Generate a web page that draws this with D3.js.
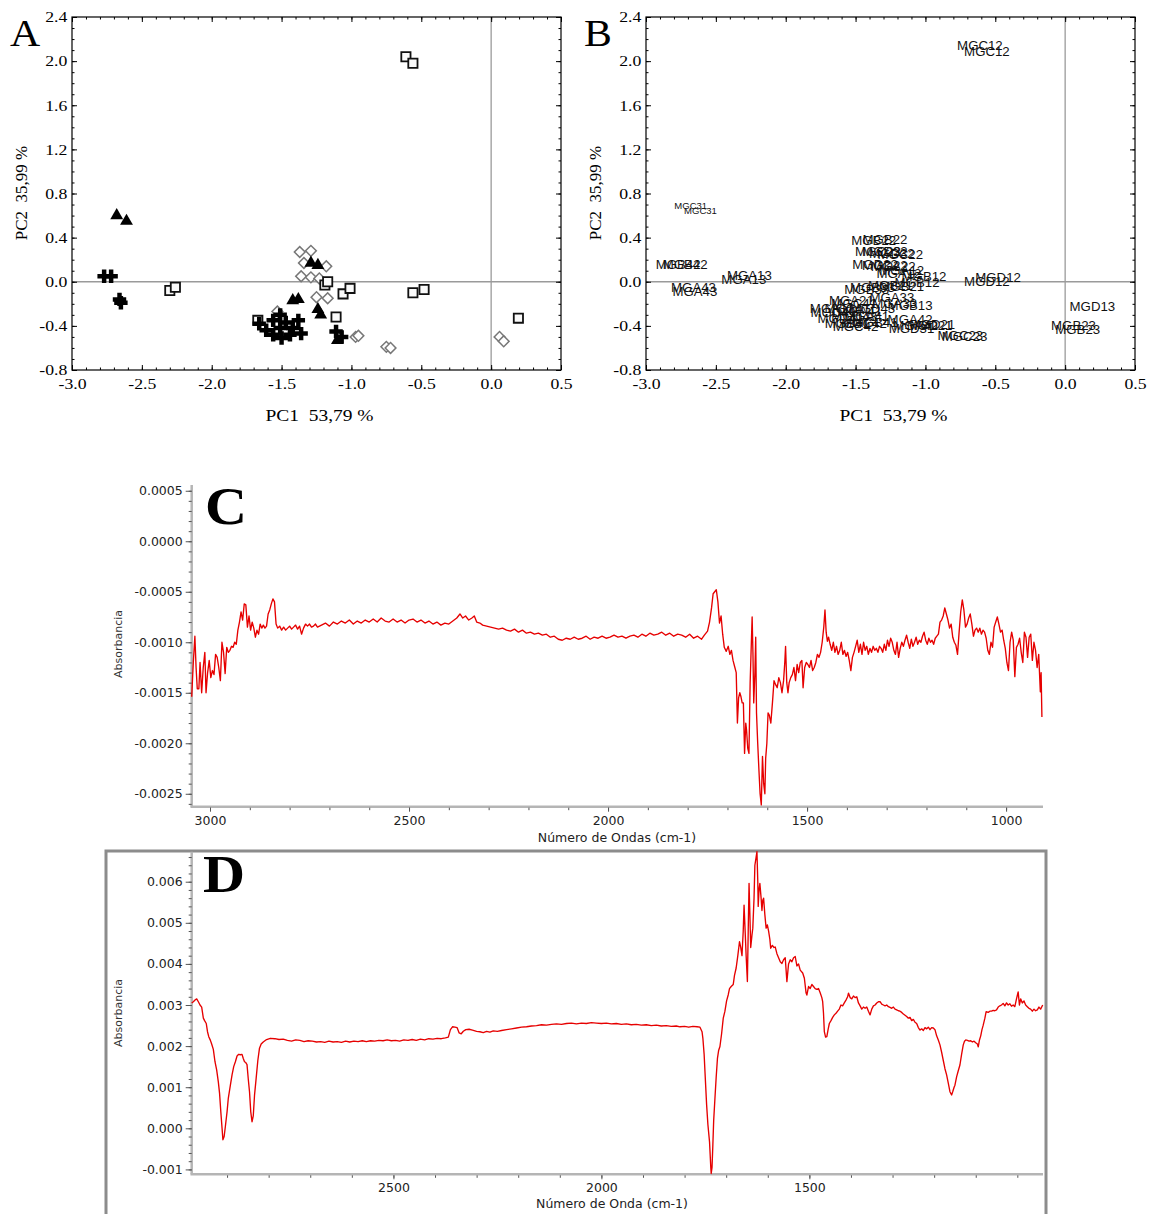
<!DOCTYPE html>
<html><head><meta charset="utf-8">
<script src="https://cdn.jsdelivr.net/npm/d3@7"></script>
<style>html,body{margin:0;padding:0;background:#fff;} svg{display:block;}</style>
</head><body>
<svg id="fig" width="1152" height="1214"></svg>
<script>
// ---------------- PCA data (panels A and B) ----------------
const sampleIds = [
 "MGC12","MGC12","MGA13","MGA13","MGD12","MGD12","MGD13","MGB12","MGB12","MGA12","MGA12","MGB13","MGA11",
 "MGB22","MGB22","MGC22","MGC22","MGD22","MGD22","MGA22","MGB21","MGB21","MGD21","MGD21","MGC23","MGC23","MGB23","MGB23","MGA21",
 "MGC31","MGC31","MGD32","MGD32","MGB33","MGB33","MGA33","MGA33","MGD31",
 "MGB42","MGB42","MGA43","MGA43","MGD41","MGD41","MGC41","MGC41","MGA41","MGA41","MGB41","MGB41","MGC42","MGC42","MGD43","MGD43","MGA42","MGA42"];
const pc1Scores = [
 -0.61,-0.56,-2.30,-2.26,-0.56,-0.48,0.195,-1.06,-1.01,-1.19,-1.17,-1.11,-1.67,
 -1.37,-1.29,-1.34,-1.18,-1.36,-1.29,-1.23,-1.25,-1.17,-0.97,-0.95,-0.75,-0.72,0.06,0.09,-1.53,
 -2.68,-2.61,-1.29,-1.24,-1.42,-1.38,-1.24,-1.22,-1.10,
 -2.77,-2.72,-2.66,-2.65,-1.66,-1.61,-1.56,-1.51,-1.47,-1.42,-1.36,-1.56,-1.50,-1.44,-1.38,-1.51,-1.11,-1.07];
const pc2Scores = [
 2.04,1.98,-0.08,-0.05,-0.10,-0.07,-0.33,-0.11,-0.06,-0.03,0.00,-0.32,-0.35,
 0.27,0.28,0.17,0.14,0.05,0.04,0.03,-0.14,-0.15,-0.50,-0.49,-0.59,-0.60,-0.50,-0.54,-0.27,
 0.60,0.55,0.17,0.15,-0.17,-0.16,-0.25,-0.30,-0.53,
 0.05,0.05,-0.16,-0.19,-0.38,-0.44,-0.35,-0.30,-0.37,-0.42,-0.47,-0.48,-0.51,-0.48,-0.35,-0.42,-0.45,-0.50];
const pcaXTicks = [-3.0,-2.5,-2.0,-1.5,-1.0,-0.5,0.0,0.5];
const pcaYTicks = [-0.8,-0.4,0.0,0.4,0.8,1.2,1.6,2.0,2.4];
const pcaXTitle = "PC1  53,79 %";
const pcaYTitle = "PC2  35,99 %";

// ---------------- Spectrum C ----------------
const specC = [
[3046,-0.00154],[3042,-0.00120],[3038,-0.00094],[3035,-0.00125],[3032,-0.00146],[3028,-0.00146],[3025,-0.00120],[3021,-0.00150],
[3017,-0.00125],[3013,-0.00110],[3010,-0.00150],[3006,-0.00130],[3002,-0.00118],[2998,-0.00135],[2994,-0.00128],[2990,-0.00132],
[2986,-0.00112],[2982,-0.00115],[2978,-0.00125],[2974,-0.00138],[2970,-0.00100],[2966,-0.00110],[2962,-0.00131],[2958,-0.00105],
[2954,-0.00110],[2950,-0.00108],[2946,-0.00104],[2942,-0.00105],[2938,-0.00100],[2934,-0.00102],[2930,-0.00088],[2926,-0.00080],
[2922,-0.00070],[2918,-0.00078],[2914,-0.00062],[2910,-0.00063],[2906,-0.00085],[2902,-0.00074],[2898,-0.00088],[2894,-0.00080],
[2890,-0.00086],[2886,-0.00095],[2882,-0.00088],[2878,-0.00092],[2874,-0.00082],[2870,-0.00086],[2866,-0.00083],[2862,-0.00086],
[2858,-0.00084],[2854,-0.00072],[2850,-0.00068],[2846,-0.00062],[2842,-0.00057],[2838,-0.00060],[2834,-0.00082],[2830,-0.00086],
[2825,-0.00084],[2820,-0.00088],[2815,-0.00085],[2810,-0.00088],[2805,-0.00086],[2800,-0.00084],[2795,-0.00087],[2790,-0.00085],
[2785,-0.00083],[2780,-0.00087],[2775,-0.00084],[2770,-0.00092],[2765,-0.00086],[2760,-0.00082],[2755,-0.00084],[2750,-0.00082],
[2745,-0.00085],[2740,-0.00084],[2735,-0.00082],[2730,-0.00085],[2720,-0.00083],[2710,-0.00081],[2700,-0.00084],[2690,-0.00080],
[2680,-0.00082],[2670,-0.00079],[2660,-0.00081],[2650,-0.00078],[2640,-0.00082],[2630,-0.00079],[2620,-0.00081],[2610,-0.00078],
[2600,-0.00080],[2590,-0.00077],[2580,-0.00080],[2570,-0.00076],[2560,-0.00079],[2550,-0.00080],[2540,-0.00077],[2530,-0.00080],
[2520,-0.00078],[2510,-0.00081],[2500,-0.00078],[2490,-0.00077],[2480,-0.00080],[2470,-0.00078],[2460,-0.00081],[2450,-0.00079],
[2440,-0.00082],[2430,-0.00080],[2420,-0.00083],[2410,-0.00081],[2400,-0.00082],[2390,-0.00079],[2380,-0.00076],[2372,-0.00072],
[2365,-0.00076],[2358,-0.00074],[2350,-0.00078],[2342,-0.00076],[2336,-0.00074],[2330,-0.00080],[2322,-0.00081],[2315,-0.00083],
[2305,-0.00084],[2295,-0.00085],[2285,-0.00086],[2275,-0.00087],[2265,-0.00086],[2255,-0.00088],[2245,-0.00089],[2235,-0.00087],
[2225,-0.00090],[2215,-0.00088],[2205,-0.00091],[2195,-0.00090],[2185,-0.00092],[2175,-0.00091],[2165,-0.00093],[2155,-0.00092],
[2145,-0.00095],[2135,-0.00094],[2125,-0.00097],[2115,-0.00098],[2105,-0.00096],[2095,-0.00097],[2085,-0.00095],[2075,-0.00097],
[2065,-0.00096],[2055,-0.00094],[2045,-0.00097],[2035,-0.00095],[2025,-0.00096],[2015,-0.00094],[2005,-0.00096],[1995,-0.00095],
[1985,-0.00093],[1975,-0.00095],[1965,-0.00094],[1955,-0.00096],[1945,-0.00094],[1935,-0.00093],[1925,-0.00095],[1915,-0.00092],
[1905,-0.00094],[1895,-0.00091],[1885,-0.00093],[1875,-0.00092],[1865,-0.00090],[1855,-0.00093],[1845,-0.00091],[1835,-0.00094],
[1825,-0.00092],[1815,-0.00093],[1805,-0.00095],[1795,-0.00092],[1785,-0.00096],[1775,-0.00094],[1765,-0.00097],[1758,-0.00093],
[1750,-0.00089],[1745,-0.00080],[1740,-0.00066],[1736,-0.00052],[1732,-0.00050],[1728,-0.00048],[1724,-0.00060],[1720,-0.00081],
[1716,-0.00074],[1712,-0.00092],[1708,-0.00105],[1703,-0.00109],[1698,-0.00104],[1694,-0.00112],[1690,-0.00108],[1686,-0.00118],
[1682,-0.00124],[1678,-0.00130],[1675,-0.00180],[1672,-0.00155],[1669,-0.00150],[1666,-0.00154],[1663,-0.00160],[1660,-0.00160],
[1657,-0.00210],[1654,-0.00180],[1652,-0.00187],[1649,-0.00205],[1646,-0.00210],[1643,-0.00140],[1641,-0.00114],[1638,-0.00075],
[1636,-0.00110],[1634,-0.00160],[1631,-0.00130],[1629,-0.00095],[1627,-0.00170],[1624,-0.00200],[1621,-0.00226],[1618,-0.00250],
[1615,-0.00261],[1612,-0.00213],[1609,-0.00240],[1606,-0.00250],[1604,-0.00215],[1601,-0.00200],[1598,-0.00170],[1595,-0.00172],
[1591,-0.00180],[1587,-0.00160],[1583,-0.00138],[1579,-0.00142],[1575,-0.00145],[1571,-0.00135],[1567,-0.00140],[1563,-0.00150],
[1559,-0.00138],[1556,-0.00120],[1554,-0.00104],[1551,-0.00140],[1548,-0.00150],[1545,-0.00140],[1541,-0.00135],[1537,-0.00132],
[1533,-0.00125],[1529,-0.00138],[1525,-0.00122],[1521,-0.00130],[1517,-0.00120],[1513,-0.00118],[1510,-0.00145],[1506,-0.00125],
[1502,-0.00120],[1498,-0.00122],[1494,-0.00125],[1490,-0.00118],[1486,-0.00128],[1482,-0.00125],[1478,-0.00120],[1474,-0.00112],
[1470,-0.00115],[1466,-0.00110],[1462,-0.00100],[1458,-0.00085],[1455,-0.00068],[1452,-0.00090],[1449,-0.00099],[1446,-0.00095],
[1442,-0.00102],[1438,-0.00108],[1434,-0.00100],[1430,-0.00110],[1426,-0.00104],[1422,-0.00112],[1418,-0.00108],[1414,-0.00100],
[1410,-0.00112],[1406,-0.00108],[1402,-0.00114],[1398,-0.00110],[1394,-0.00118],[1390,-0.00128],[1386,-0.00115],[1382,-0.00110],
[1378,-0.00104],[1374,-0.00098],[1370,-0.00110],[1366,-0.00102],[1362,-0.00112],[1358,-0.00100],[1354,-0.00108],[1350,-0.00104],
[1346,-0.00112],[1342,-0.00106],[1338,-0.00110],[1334,-0.00104],[1330,-0.00108],[1326,-0.00106],[1322,-0.00110],[1318,-0.00104],
[1314,-0.00106],[1310,-0.00110],[1306,-0.00102],[1302,-0.00108],[1298,-0.00098],[1294,-0.00104],[1290,-0.00096],[1286,-0.00100],
[1282,-0.00108],[1278,-0.00112],[1274,-0.00100],[1270,-0.00115],[1266,-0.00106],[1262,-0.00100],[1258,-0.00104],[1254,-0.00098],
[1250,-0.00093],[1246,-0.00100],[1242,-0.00106],[1238,-0.00097],[1234,-0.00104],[1230,-0.00100],[1226,-0.00095],[1222,-0.00102],
[1218,-0.00098],[1214,-0.00100],[1210,-0.00094],[1206,-0.00090],[1202,-0.00098],[1198,-0.00102],[1194,-0.00096],[1190,-0.00100],
[1186,-0.00098],[1182,-0.00102],[1178,-0.00096],[1174,-0.00094],[1170,-0.00092],[1166,-0.00080],[1162,-0.00078],[1158,-0.00074],
[1154,-0.00066],[1150,-0.00072],[1146,-0.00078],[1142,-0.00086],[1138,-0.00082],[1134,-0.00095],[1130,-0.00100],[1126,-0.00103],
[1122,-0.00112],[1118,-0.00090],[1114,-0.00070],[1110,-0.00058],[1106,-0.00068],[1102,-0.00085],[1098,-0.00082],[1094,-0.00076],
[1090,-0.00072],[1086,-0.00082],[1082,-0.00094],[1078,-0.00088],[1074,-0.00086],[1070,-0.00090],[1066,-0.00086],[1062,-0.00092],
[1058,-0.00088],[1054,-0.00090],[1050,-0.00096],[1046,-0.00108],[1042,-0.00112],[1038,-0.00100],[1034,-0.00105],[1030,-0.00085],
[1026,-0.00080],[1022,-0.00075],[1018,-0.00082],[1014,-0.00090],[1010,-0.00088],[1006,-0.00098],[1002,-0.00106],[998,-0.00120],
[994,-0.00128],[990,-0.00100],[986,-0.00090],[982,-0.00098],[978,-0.00134],[974,-0.00105],[970,-0.00102],[966,-0.00096],
[962,-0.00110],[958,-0.00120],[954,-0.00090],[950,-0.00095],[946,-0.00115],[942,-0.00095],[938,-0.00092],[934,-0.00118],
[930,-0.00100],[926,-0.00108],[922,-0.00125],[918,-0.00112],[914,-0.00149],[912,-0.00130],[910,-0.00174]];
const cYTicks = [0.0005,0.0000,-0.0005,-0.0010,-0.0015,-0.0020,-0.0025];
const cXTicks = [3000,2500,2000,1500,1000];

// ---------------- Spectrum D ----------------
const specD = [
[2985,0.00305],[2981,0.00308],[2977,0.00312],[2973,0.00315],[2969,0.00308],[2965,0.00300],[2961,0.00295],[2957,0.00268],
[2954,0.00262],[2950,0.00255],[2947,0.00235],[2944,0.00223],[2940,0.00214],[2937,0.00205],[2933,0.00192],[2929,0.00162],
[2925,0.00142],[2921,0.00113],[2918,0.00085],[2915,0.00040],[2912,0.00000],[2910,-0.00028],[2907,-0.00020],[2904,0.00005],
[2900,0.00040],[2897,0.00073],[2892,0.00105],[2888,0.00130],[2884,0.00150],[2880,0.00162],[2876,0.00176],[2872,0.00180],
[2868,0.00179],[2864,0.00180],[2861,0.00170],[2858,0.00162],[2855,0.00160],[2852,0.00155],[2849,0.00120],[2846,0.00089],
[2843,0.00040],[2840,0.00016],[2837,0.00030],[2834,0.00080],[2830,0.00122],[2826,0.00165],[2822,0.00195],[2818,0.00205],
[2813,0.00210],[2805,0.00216],[2796,0.00219],[2785,0.00218],[2775,0.00216],[2765,0.00217],[2755,0.00214],[2745,0.00212],
[2735,0.00215],[2725,0.00214],[2715,0.00211],[2705,0.00213],[2695,0.00212],[2685,0.00210],[2675,0.00211],[2665,0.00209],
[2655,0.00212],[2645,0.00210],[2635,0.00211],[2625,0.00209],[2615,0.00212],[2605,0.00210],[2595,0.00212],[2585,0.00211],
[2575,0.00213],[2565,0.00211],[2555,0.00213],[2545,0.00212],[2535,0.00214],[2525,0.00213],[2515,0.00215],[2505,0.00213],
[2495,0.00214],[2485,0.00212],[2475,0.00215],[2465,0.00214],[2455,0.00216],[2445,0.00214],[2435,0.00217],[2425,0.00215],
[2415,0.00218],[2405,0.00217],[2395,0.00219],[2385,0.00218],[2375,0.00220],[2368,0.00222],[2363,0.00240],[2358,0.00247],
[2352,0.00246],[2347,0.00245],[2342,0.00232],[2337,0.00230],[2332,0.00236],[2326,0.00240],[2318,0.00241],[2310,0.00239],
[2300,0.00236],[2292,0.00235],[2284,0.00233],[2276,0.00236],[2268,0.00234],[2260,0.00237],[2250,0.00236],[2240,0.00238],
[2228,0.00240],[2216,0.00242],[2204,0.00244],[2192,0.00246],[2180,0.00247],[2168,0.00249],[2156,0.00250],[2144,0.00252],
[2132,0.00251],[2120,0.00253],[2108,0.00254],[2096,0.00253],[2084,0.00255],[2072,0.00256],[2060,0.00254],[2048,0.00256],
[2036,0.00255],[2024,0.00257],[2012,0.00256],[2000,0.00255],[1988,0.00256],[1976,0.00254],[1964,0.00255],[1952,0.00253],
[1940,0.00254],[1928,0.00252],[1916,0.00253],[1904,0.00251],[1892,0.00252],[1880,0.00250],[1868,0.00251],[1856,0.00249],
[1844,0.00250],[1832,0.00248],[1820,0.00249],[1811,0.00247],[1800,0.00248],[1790,0.00246],[1780,0.00248],[1770,0.00247],
[1763,0.00246],[1758,0.00235],[1756,0.00219],[1753,0.00180],[1751,0.00138],[1747,0.00057],[1744,0.00010],[1740,-0.00033],
[1737,-0.00095],[1736,-0.00110],[1734,-0.00095],[1732,-0.00040],[1730,0.00020],[1727,0.00073],[1724,0.00125],[1721,0.00170],
[1718,0.00190],[1715,0.00199],[1711,0.00230],[1707,0.00268],[1703,0.00285],[1699,0.00310],[1695,0.00325],[1692,0.00340],
[1688,0.00345],[1683,0.00350],[1680,0.00372],[1676,0.00390],[1672,0.00420],[1668,0.00454],[1665,0.00440],[1662,0.00420],
[1659,0.00480],[1657,0.00543],[1654,0.00470],[1652,0.00420],[1649,0.00357],[1647,0.00480],[1645,0.00596],[1643,0.00520],
[1641,0.00440],[1638,0.00470],[1636,0.00487],[1633,0.00560],[1631,0.00640],[1628,0.00660],[1626,0.00673],[1624,0.00600],
[1623,0.00540],[1621,0.00580],[1619,0.00596],[1616,0.00560],[1614,0.00530],[1612,0.00555],[1610,0.00560],[1607,0.00520],
[1604,0.00487],[1601,0.00495],[1598,0.00480],[1595,0.00460],[1593,0.00438],[1589,0.00445],[1585,0.00440],[1582,0.00441],
[1578,0.00425],[1574,0.00415],[1570,0.00405],[1566,0.00401],[1562,0.00410],[1558,0.00415],[1554,0.00357],[1550,0.00400],
[1546,0.00410],[1542,0.00405],[1538,0.00415],[1534,0.00418],[1530,0.00395],[1526,0.00400],[1522,0.00385],[1516,0.00378],
[1512,0.00365],[1508,0.00330],[1506,0.00324],[1502,0.00345],[1498,0.00340],[1494,0.00350],[1490,0.00345],[1486,0.00340],
[1482,0.00338],[1478,0.00340],[1474,0.00330],[1470,0.00318],[1468,0.00308],[1466,0.00280],[1464,0.00235],[1461,0.00222],
[1458,0.00223],[1455,0.00240],[1452,0.00255],[1448,0.00262],[1444,0.00270],[1440,0.00276],[1436,0.00280],[1432,0.00285],
[1428,0.00290],[1424,0.00300],[1420,0.00298],[1416,0.00305],[1412,0.00312],[1408,0.00320],[1406,0.00329],[1402,0.00318],
[1398,0.00315],[1394,0.00322],[1390,0.00318],[1386,0.00320],[1382,0.00305],[1378,0.00298],[1374,0.00290],[1370,0.00295],
[1366,0.00292],[1362,0.00295],[1358,0.00285],[1354,0.00276],[1350,0.00290],[1346,0.00298],[1342,0.00300],[1338,0.00305],
[1334,0.00308],[1330,0.00308],[1326,0.00302],[1322,0.00300],[1318,0.00298],[1314,0.00300],[1310,0.00296],[1306,0.00294],
[1302,0.00292],[1298,0.00295],[1294,0.00290],[1290,0.00288],[1286,0.00286],[1282,0.00285],[1278,0.00282],[1274,0.00278],
[1270,0.00275],[1266,0.00272],[1262,0.00268],[1258,0.00270],[1254,0.00262],[1250,0.00265],[1246,0.00258],[1242,0.00255],
[1238,0.00245],[1234,0.00239],[1230,0.00242],[1226,0.00238],[1222,0.00245],[1218,0.00242],[1214,0.00246],[1210,0.00240],
[1206,0.00245],[1202,0.00244],[1198,0.00240],[1194,0.00225],[1190,0.00215],[1186,0.00203],[1182,0.00185],[1178,0.00165],
[1174,0.00145],[1170,0.00130],[1166,0.00110],[1162,0.00089],[1158,0.00081],[1155,0.00090],[1152,0.00100],[1150,0.00105],
[1146,0.00125],[1142,0.00140],[1138,0.00154],[1134,0.00180],[1130,0.00203],[1127,0.00212],[1124,0.00215],[1120,0.00214],
[1116,0.00212],[1112,0.00213],[1108,0.00210],[1104,0.00212],[1100,0.00208],[1096,0.00205],[1094,0.00198],[1091,0.00215],
[1088,0.00225],[1085,0.00240],[1082,0.00251],[1078,0.00268],[1075,0.00284],[1070,0.00282],[1066,0.00285],[1062,0.00285],
[1058,0.00287],[1054,0.00286],[1050,0.00288],[1046,0.00295],[1042,0.00298],[1038,0.00300],[1034,0.00304],[1030,0.00298],
[1026,0.00305],[1022,0.00300],[1018,0.00303],[1014,0.00297],[1010,0.00300],[1006,0.00296],[1002,0.00315],[998,0.00332],
[995,0.00300],[992,0.00315],[988,0.00305],[984,0.00310],[980,0.00300],[976,0.00296],[972,0.00292],[968,0.00290],
[964,0.00285],[960,0.00290],[956,0.00286],[952,0.00288],[948,0.00295],[944,0.00290],[939,0.00300]];
const dYTicks = [0.006,0.005,0.004,0.003,0.002,0.001,0.000,-0.001];
const dXTicks = [2500,2000,1500];

// =====================================================================
const svg = d3.select("#fig");
const fix = s => s.replace(/\u2212/g, "-");
const SERIF = "'Liberation Serif','Times New Roman',serif";
const SANS = "'DejaVu Sans',Verdana,sans-serif";
const HS = 1.18; // horizontal stretch of the original figure's serif text

function stretchText(sel, s) { sel.selectAll("text").attr("transform", `scale(${s},1)`); }

function pcaPanel(left, letter, mode) {
  const x = d3.scaleLinear().domain([-3, 0.5]).range([left, left + 489]);
  const y = d3.scaleLinear().domain([-0.8, 2.4]).range([370, 17]);
  const g = svg.append("g");
  const minorX = d3.range(-3, 0.5001, 0.1), minorY = d3.range(-0.8, 2.4001, 0.1);

  g.append("line").attr("x1", x(-3)).attr("x2", x(0.5)).attr("y1", y(0)).attr("y2", y(0))
    .attr("stroke", "#9a9a9a").attr("stroke-width", 1.3);
  g.append("line").attr("x1", x(0)).attr("x2", x(0)).attr("y1", y(2.4)).attr("y2", y(-0.8))
    .attr("stroke", "#9a9a9a").attr("stroke-width", 1.3);

  const fmt = d => fix(d3.format(".1f")(d));
  const put = (gen, tx, ty) => {
    const a = g.append("g").attr("transform", `translate(${tx},${ty})`).call(gen);
    a.select(".domain").remove();
    a.selectAll("line").attr("stroke", "#000");
    a.selectAll("text").attr("font-family", SERIF).attr("font-size", 15).attr("fill", "#000");
    return a;
  };
  const bx = put(d3.axisBottom(x).tickValues(pcaXTicks).tickSize(-5).tickPadding(8).tickFormat(fmt), 0, y(-0.8));
  stretchText(bx, HS);
  put(d3.axisBottom(x).tickValues(minorX).tickSize(-2.5).tickFormat(""), 0, y(-0.8));
  const ly = put(d3.axisLeft(y).tickValues(pcaYTicks).tickSize(-5).tickPadding(4).tickFormat(fmt), x(-3), 0);
  stretchText(ly, HS);
  put(d3.axisLeft(y).tickValues(minorY).tickSize(-2.5).tickFormat(""), x(-3), 0);
  put(d3.axisTop(x).tickValues(pcaXTicks).tickSize(-5).tickFormat(""), 0, y(2.4));
  put(d3.axisTop(x).tickValues(minorX).tickSize(-2.5).tickFormat(""), 0, y(2.4));
  put(d3.axisRight(y).tickValues(pcaYTicks).tickSize(-5).tickFormat(""), x(0.5), 0);
  put(d3.axisRight(y).tickValues(minorY).tickSize(-2.5).tickFormat(""), x(0.5), 0);

  g.append("rect").attr("x", x(-3)).attr("y", y(2.4)).attr("width", x(0.5) - x(-3)).attr("height", y(-0.8) - y(2.4))
    .attr("fill", "none").attr("stroke", "#000").attr("stroke-width", 1.2);

  g.append("g").attr("transform", `translate(${(x(-3) + x(0.5)) / 2 + 3},421)`)
    .append("text").attr("text-anchor", "middle").attr("font-family", SERIF).attr("font-size", 16.5)
    .attr("transform", `scale(${HS},1)`).style("white-space", "pre").text(pcaXTitle);
  g.append("g").attr("transform", `translate(${left - 45},${193}) rotate(-90)`)
    .append("text").attr("text-anchor", "middle").attr("font-family", SERIF).attr("font-size", 17)
    .style("white-space", "pre").text(pcaYTitle);
  g.append("g").attr("transform", `translate(${left - 62},46)`)
    .append("text").attr("font-family", SERIF).attr("font-size", 38).attr("transform", `scale(1.1,1)`).text(letter);

  const pts = sampleIds.map((id, i) => ({ id, pc1: pc1Scores[i], pc2: pc2Scores[i], grp: id.charAt(3) }));

  if (mode === "markers") {
    const sq = d3.symbol(d3.symbolSquare, 85)();
    const dia = d3.symbol(d3.symbolSquare, 58)();
    const tri = d3.symbol(d3.symbolTriangle, 72)();
    const crs = d3.symbol(d3.symbolCross, 100)();
    ["2", "1", "3", "4"].forEach(gk => {
      g.append("g").selectAll("path").data(pts.filter(p => p.grp === gk)).join("path")
        .attr("transform", p => `translate(${x(p.pc1)},${y(p.pc2)})` + (gk === "2" ? " rotate(45)" : ""))
        .attr("d", gk === "1" ? sq : gk === "2" ? dia : gk === "3" ? tri : crs)
        .attr("fill", gk === "1" ? "#fafafa" : gk === "2" ? "#fff" : "#000")
        .attr("stroke", gk === "1" ? "#111" : gk === "2" ? "#777" : "none")
        .attr("stroke-width", gk === "1" ? 1.8 : 1.5);
    });
  } else {
    g.append("g").selectAll("g").data(pts).join("g")
      .attr("transform", p => `translate(${x(p.pc1)},${y(p.pc2) - 7})`)
      .append("text").attr("text-anchor", "middle").attr("font-family", "'Liberation Sans',Arial,sans-serif")
      .attr("font-size", p => p.grp === "3" && p.pc2 > 0.4 ? 9 : 12.5).attr("fill", "#111")
      .attr("transform", "scale(1.06,1)")
      .text(p => p.id);
  }
}

pcaPanel(72, "A", "markers");
pcaPanel(646, "B", "labels");

function spectrumPanel(cfg) {
  const g = svg.append("g");
  const x = d3.scaleLinear().domain(cfg.xDomain).range([191.7, 1042.7]);
  const y = d3.scaleLinear().domain(cfg.yDomain).range([cfg.yBottom, cfg.yTop]);
  const yb = cfg.yBottom;

  if (cfg.frame) {
    g.append("rect").attr("x", 106).attr("y", 851).attr("width", 940).attr("height", 420)
      .attr("fill", "none").attr("stroke", "#8c8c8c").attr("stroke-width", 3);
  }
  g.append("line").attr("x1", 191.7).attr("x2", 191.7).attr("y1", cfg.yTop).attr("y2", yb)
    .attr("stroke", "#b5b5b5").attr("stroke-width", 2.5);
  g.append("line").attr("x1", 190.5).attr("x2", 1043).attr("y1", yb).attr("y2", yb)
    .attr("stroke", "#b5b5b5").attr("stroke-width", 2.5);

  const style = (a) => {
    a.select(".domain").remove();
    a.selectAll("line").attr("stroke", "#555").attr("stroke-width", 1);
    a.selectAll("text").attr("font-family", SANS).attr("font-size", 12.5).attr("fill", "#222");
    return a;
  };
  style(g.append("g").attr("transform", `translate(191.7,0)`)
    .call(d3.axisLeft(y).tickValues(cfg.yTicks).tickSize(6).tickPadding(3).tickFormat(d => fix(d3.format(cfg.yFmt)(d)))));
  style(g.append("g").attr("transform", `translate(191.7,0)`)
    .call(d3.axisLeft(y).tickValues(cfg.yMinor).tickSize(3).tickFormat("")));
  style(g.append("g").attr("transform", `translate(0,${yb + 1})`)
    .call(d3.axisBottom(x).tickValues(cfg.xTicks).tickSize(4).tickPadding(4).tickFormat(d3.format("d"))));
  style(g.append("g").attr("transform", `translate(0,${yb + 1})`)
    .call(d3.axisBottom(x).tickValues(cfg.xMinor).tickSize(2.5).tickFormat("")));

  const line = d3.line().x(d => x(d[0])).y(d => y(d[1]));
  g.append("path").datum(cfg.data).attr("d", line).attr("fill", "none")
    .attr("stroke", "#e60000").attr("stroke-width", 1.35).attr("stroke-linejoin", "round");

  g.append("text").attr("transform", `translate(122,${cfg.yLabelY}) rotate(-90)`)
    .attr("text-anchor", "middle").attr("font-family", SANS).attr("font-size", 11).attr("fill", "#333")
    .text("Absorbancia");
  g.append("text").attr("x", cfg.xLabelX).attr("y", cfg.xLabelY).attr("text-anchor", "middle")
    .attr("font-family", SANS).attr("font-size", 12.5).attr("fill", "#222").text(cfg.xTitle);
  g.append("g").attr("transform", `translate(${cfg.letterX},${cfg.letterY})`)
    .append("text").attr("font-family", SERIF).attr("font-weight", "bold").attr("font-size", 52)
    .attr("transform", "scale(1.12,1)").attr("fill", "#000").text(cfg.letter);
}

spectrumPanel({
  data: specC, xDomain: [3046, 908], yDomain: [-0.002628, 0.000557], yTop: 485, yBottom: 806.7,
  yTicks: cYTicks, yMinor: d3.range(-0.0026, 0.00056, 0.0001), yFmt: ".4f",
  xTicks: cXTicks, xMinor: d3.range(1000, 3001, 100),
  yLabelY: 644, xLabelX: 617, xLabelY: 842, xTitle: "Número de Ondas (cm-1)",
  letter: "C", letterX: 205, letterY: 524, frame: false
});
spectrumPanel({
  data: specD, xDomain: [2985, 939], yDomain: [-0.001119, 0.00673], yTop: 851.7, yBottom: 1174.3,
  yTicks: dYTicks, yMinor: d3.range(-0.001, 0.00661, 0.0002), yFmt: ".3f",
  xTicks: dXTicks, xMinor: d3.range(1000, 2901, 100),
  yLabelY: 1013, xLabelX: 612, xLabelY: 1208, xTitle: "Número de Onda (cm-1)",
  letter: "D", letterX: 203, letterY: 892, frame: true
});
</script>
</body></html>
